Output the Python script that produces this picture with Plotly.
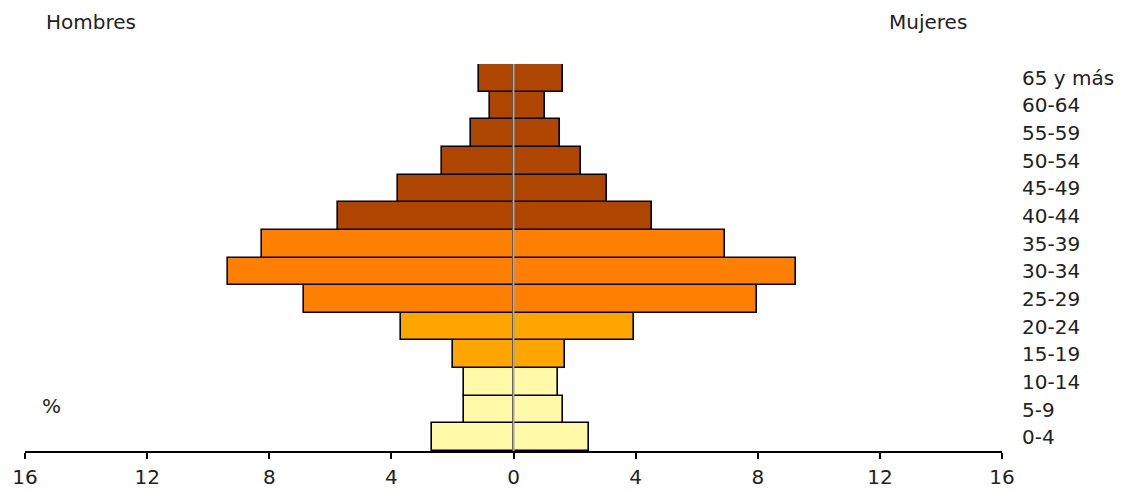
import plotly.graph_objects as go

age_groups = ["0-4", "5-9", "10-14", "15-19", "20-24", "25-29", "30-34",
              "35-39", "40-44", "45-49", "50-54", "55-59", "60-64", "65 y más"]
hombres = [2.66, 1.62, 1.62, 1.97, 3.69, 6.86, 9.36, 8.24, 5.75, 3.77, 2.33, 1.38, 0.78, 1.12]
mujeres = [2.47, 1.61, 1.45, 1.69, 3.94, 7.96, 9.24, 6.93, 4.53, 3.06, 2.21, 1.52, 1.02, 1.63]
bar_colors = ["#FFF9A8", "#FFF9A8", "#FFF9A8", "#FFA500", "#FFA500", "#FF7F00", "#FF7F00",
              "#FF7F00", "#AE4500", "#AE4500", "#AE4500", "#AE4500", "#AE4500", "#AE4500"]
x_tickvals = [-16, -12, -8, -4, 0, 4, 8, 12, 16]
x_ticktext = ["16", "12", "8", "4", "0", "4", "8", "12", "16"]

FONT = "DejaVu Sans, Verdana, sans-serif"
FS = 20
TXT = "#222222"

fig = go.Figure()
fig.add_trace(go.Bar(
    y=age_groups, x=[-v for v in hombres], orientation="h", name="Hombres",
    marker=dict(color=bar_colors, line=dict(color="black", width=1.6)),
    hoverinfo="skip", showlegend=False,
))
fig.add_trace(go.Bar(
    y=age_groups, x=mujeres, orientation="h", name="Mujeres",
    marker=dict(color=bar_colors, line=dict(color="black", width=1.6)),
    hoverinfo="skip", showlegend=False,
))

fig.add_shape(type="line", xref="x", yref="paper", x0=0, x1=0, y0=0, y1=1,
              line=dict(color="#A8A8A8", width=2), layer="above")

fig.update_layout(
    width=1116, height=482,
    margin=dict(l=17, r=122, t=56, b=39),
    paper_bgcolor="white", plot_bgcolor="white",
    barmode="relative", bargap=0,
    font=dict(family=FONT, size=FS, color=TXT),
    xaxis=dict(
        range=[-16, 16], tickvals=x_tickvals, ticktext=x_ticktext,
        showgrid=False, zeroline=False, showline=True, linecolor="black", linewidth=2,
        ticks="outside", ticklen=6, tickwidth=2, tickcolor="black",
        tickfont=dict(family=FONT, size=FS, color=TXT), ticklabelstandoff=1,
        fixedrange=True, automargin=False,
    ),
    yaxis=dict(
        type="category", categoryorder="array", categoryarray=age_groups,
        range=[-0.5, 13.5], side="right",
        showgrid=False, zeroline=False, showline=False, ticks="",
        tickfont=dict(family=FONT, size=FS, color=TXT), ticklabelstandoff=19,
        fixedrange=True, automargin=False,
    ),
    annotations=[
        dict(text="Hombres", xref="paper", yref="paper", x=0.019, y=1.1085,
             xanchor="left", yanchor="middle", showarrow=False,
             font=dict(family=FONT, size=FS, color=TXT)),
        dict(text="Mujeres", xref="paper", yref="paper", x=0.966, y=1.1085,
             xanchor="right", yanchor="middle", showarrow=False,
             font=dict(family=FONT, size=FS, color=TXT)),
        dict(text="%", xref="paper", yref="paper", x=0.015, y=0.116,
             xanchor="left", yanchor="middle", showarrow=False,
             font=dict(family=FONT, size=FS, color=TXT)),
    ],
)

fig.write_html("out.html")
